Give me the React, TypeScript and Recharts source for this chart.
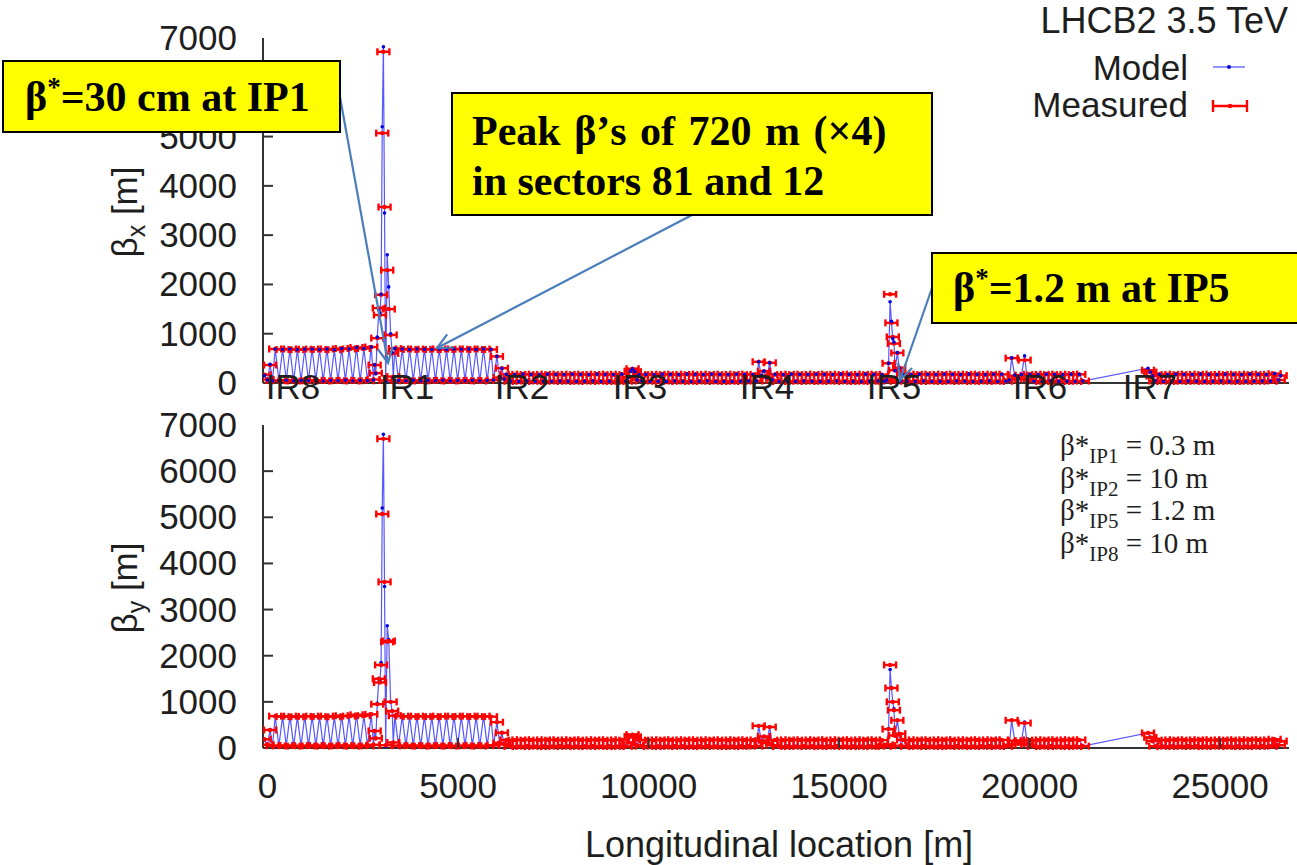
import { ComposedChart, Line, Scatter, XAxis, YAxis, Legend } from "recharts"

type Pt = [number, number]

// s [m], beta [m]
const arc81: Pt[] = [
  [200, 690], [297, 45], [394, 680], [491, 55], [588, 690], [685, 40], [782, 675], [879, 50], [976, 685],
  [1073, 45], [1170, 690], [1267, 55], [1364, 680], [1461, 40], [1558, 690], [1655, 50], [1752, 675],
  [1849, 45], [1946, 700], [2043, 55], [2140, 690], [2237, 40], [2334, 720], [2431, 50], [2528, 700],
  [2625, 45], [2722, 730],
]
const arc12: Pt[] = [
  [3340, 700], [3437, 50], [3534, 690], [3631, 45], [3728, 680], [3825, 55], [3922, 690], [4019, 40],
  [4116, 685], [4213, 50], [4310, 680], [4407, 45], [4504, 690], [4601, 55], [4698, 680], [4795, 40],
  [4892, 690], [4989, 50], [5086, 685], [5183, 45], [5280, 690], [5377, 55], [5474, 680], [5571, 40],
  [5668, 690], [5765, 50], [5862, 680],
]
const arc23: Pt[] = [
  [6270, 175], [6378, 35], [6486, 170], [6594, 30], [6702, 180], [6810, 40], [6918, 175], [7026, 30],
  [7134, 170], [7242, 35], [7350, 180], [7458, 30], [7566, 175], [7674, 40], [7782, 170], [7890, 35],
  [7998, 180], [8106, 30], [8214, 175], [8322, 35], [8430, 170], [8538, 40], [8646, 180], [8754, 30],
  [8862, 175], [8970, 35], [9078, 170], [9186, 30], [9294, 180], [9402, 35],
]
const arc34: Pt[] = [
  [9820, 40], [9928, 175], [10036, 30], [10144, 170], [10252, 35], [10360, 180], [10468, 30], [10576, 175],
  [10684, 40], [10792, 170], [10900, 35], [11008, 180], [11116, 30], [11224, 175], [11332, 35], [11440, 170],
  [11548, 40], [11656, 180], [11764, 30], [11872, 175], [11980, 35], [12088, 170], [12196, 30], [12304, 180],
  [12412, 35], [12520, 175], [12628, 40], [12736, 170],
]
const arc45: Pt[] = [
  [13320, 175], [13428, 30], [13536, 170], [13644, 35], [13752, 180], [13860, 30], [13968, 175], [14076, 40],
  [14184, 170], [14292, 35], [14400, 180], [14508, 30], [14616, 175], [14724, 35], [14832, 170], [14940, 40],
  [15048, 180], [15156, 30], [15264, 175], [15372, 35], [15480, 170], [15588, 30], [15696, 180], [15804, 35],
  [15912, 175], [16020, 40], [16128, 170], [16200, 35],
]
const arc56: Pt[] = [
  [16680, 175], [16788, 35], [16896, 170], [17004, 30], [17112, 180], [17220, 40], [17328, 175], [17436, 30],
  [17544, 170], [17652, 35], [17760, 180], [17868, 30], [17976, 175], [18084, 40], [18192, 170], [18300, 35],
  [18408, 180], [18516, 30], [18624, 175], [18732, 35], [18840, 170], [18948, 40], [19056, 180], [19164, 30],
  [19272, 175], [19380, 35],
]
const arc67: Pt[] = [
  [20010, 175], [20118, 35], [20226, 170], [20334, 30], [20442, 180], [20550, 40], [20658, 175], [20766, 30],
  [20874, 170], [20982, 35], [21090, 180], [21198, 30], [21306, 175], [21400, 40],
]
const arc78: Pt[] = [
  [23300, 40], [23408, 175], [23516, 30], [23624, 170], [23732, 35], [23840, 180], [23948, 30], [24056, 175],
  [24164, 40], [24272, 170], [24380, 35], [24488, 180], [24596, 30], [24704, 175], [24812, 35], [24920, 170],
  [25028, 40], [25136, 180], [25244, 30], [25352, 175], [25460, 35], [25568, 170], [25676, 30], [25784, 180],
  [25892, 35], [26000, 175], [26108, 40], [26216, 170], [26324, 35], [26432, 190], [26540, 60], [26590, 150],
]

// horizontal plane, insertion regions
const ir8X: Pt[] = [[-80, 150], [0, 60], [65, 380], [130, 45]]
const ir8XMeas: Pt[] = [[-80, 170], [0, 70], [65, 365], [130, 50]]
const ir1X: Pt[] = [
  [2780, 60], [2810, 370], [2840, 190], [2880, 930], [2920, 1480], [2950, 1420], [2980, 1800], [3010, 5200],
  [3040, 6820], [3070, 3450], [3100, 30], [3140, 2600], [3180, 1950], [3230, 1000], [3270, 620], [3300, 110],
]
const ir1XMeas: Pt[] = [
  [2780, 70], [2810, 365], [2840, 200], [2880, 910], [2920, 1520], [2950, 1380], [2980, 1790], [3010, 5070],
  [3040, 6720], [3070, 3570], [3100, 50], [3140, 2290], [3180, 1500], [3230, 975], [3270, 600], [3300, 130],
]
const ir2X: Pt[] = [[5930, 60], [6020, 540], [6090, 110], [6150, 300], [6210, 80]]
const ir3X: Pt[] = [[9470, 120], [9530, 240], [9580, 290], [9640, 230], [9700, 60], [9750, 170]]
const ir4X: Pt[] = [[12830, 40], [12890, 430], [12960, 150], [13030, 240], [13100, 110], [13180, 410], [13250, 60]]
const ir5X: Pt[] = [
  [16250, 60], [16300, 400], [16340, 1650], [16375, 1250], [16410, 900], [16440, 830], [16470, 250],
  [16530, 620], [16580, 300], [16620, 40],
]
const ir5XMeas: Pt[] = [
  [16250, 70], [16300, 400], [16340, 1800], [16375, 1220], [16410, 935], [16440, 800], [16470, 260],
  [16530, 610], [16580, 310], [16620, 50],
]
const ir6X: Pt[] = [[19470, 60], [19530, 510], [19610, 160], [19700, 90], [19790, 170], [19870, 550], [19940, 70]]
const ir6XMeas: Pt[] = [[19470, 70], [19530, 505], [19610, 150], [19700, 90], [19790, 160], [19870, 465], [19940, 80]]
const ir7X: Pt[] = [[23110, 300], [23170, 220], [23230, 140]]
const ir7XMeas: Pt[] = [[23110, 260], [23170, 220], [23230, 140]]

// vertical plane, insertion regions
const ir8Y: Pt[] = [[-80, 180], [0, 60], [65, 400], [130, 45]]
const ir8YMeas: Pt[] = [[-80, 190], [0, 70], [65, 390], [130, 50]]
const ir1Y: Pt[] = [
  [2780, 60], [2810, 380], [2840, 200], [2880, 970], [2920, 1500], [2950, 1450], [2980, 1850], [3010, 5200],
  [3040, 6800], [3070, 3500], [3100, 30], [3140, 2650], [3180, 2350], [3230, 1000], [3270, 800], [3300, 110],
]
const ir1YMeas: Pt[] = [
  [2780, 70], [2810, 370], [2840, 210], [2880, 950], [2920, 1500], [2950, 1420], [2980, 1800], [3010, 5070],
  [3040, 6700], [3070, 3600], [3100, 60], [3140, 2300], [3180, 2320], [3230, 1000], [3270, 800], [3300, 120],
]
const ir2Y: Pt[] = [[5930, 60], [6020, 560], [6090, 110], [6150, 330], [6210, 80]]
const ir3Y: Pt[] = [[9470, 120], [9530, 250], [9580, 290], [9640, 240], [9700, 60], [9750, 170]]
const ir4Y: Pt[] = [[12830, 40], [12890, 480], [12960, 160], [13030, 250], [13100, 110], [13180, 455], [13250, 60]]
const ir5Y: Pt[] = [
  [16250, 60], [16300, 420], [16340, 1700], [16375, 1300], [16410, 1000], [16440, 850], [16470, 260],
  [16530, 600], [16580, 300], [16620, 40],
]
const ir5YMeas: Pt[] = [
  [16250, 70], [16300, 410], [16340, 1800], [16375, 1300], [16410, 1000], [16440, 820], [16470, 270],
  [16530, 600], [16580, 310], [16620, 50],
]
const ir6Y: Pt[] = [[19470, 60], [19530, 600], [19610, 170], [19700, 90], [19790, 170], [19870, 560], [19940, 70]]
const ir6YMeas: Pt[] = [[19470, 70], [19530, 600], [19610, 160], [19700, 90], [19790, 160], [19870, 540], [19940, 80]]
const ir7Y: Pt[] = [[23110, 325], [23170, 230], [23230, 150]]

const irLabels = ["IR8", "IR1", "IR2", "IR3", "IR4", "IR5", "IR6", "IR7"]
const irTicks = [669, 3661, 6680, 9777, 13110, 16444, 20276, 23163]
const betaTicks = [0, 1000, 2000, 3000, 4000, 5000, 6000, 7000]
const sTicks = [0, 5000, 10000, 15000, 20000, 25000]
const ipBetaStar = [
  { ip: "IP1", value: "0.3 m" },
  { ip: "IP2", value: "10 m" },
  { ip: "IP5", value: "1.2 m" },
  { ip: "IP8", value: "10 m" },
]

const rows = (parts: Pt[][]) => parts.flat().map(([s, beta]) => ({ s, beta }))

const modelX = rows([ir8X, arc81, ir1X, arc12, ir2X, arc23, ir3X, arc34, ir4X, arc45, ir5X, arc56, ir6X, arc67, ir7X, arc78])
const measX = rows([ir8XMeas, arc81, ir1XMeas, arc12, ir2X, arc23, ir3X, arc34, ir4X, arc45, ir5XMeas, arc56, ir6XMeas, arc67, ir7XMeas, arc78])
const modelY = rows([ir8Y, arc81, ir1Y, arc12, ir2Y, arc23, ir3Y, arc34, ir4Y, arc45, ir5Y, arc56, ir6Y, arc67, ir7Y, arc78])
const measY = rows([ir8YMeas, arc81, ir1YMeas, arc12, ir2Y, arc23, ir3Y, arc34, ir4Y, arc45, ir5YMeas, arc56, ir6YMeas, arc67, ir7Y, arc78])

const sans = "'Liberation Sans', Arial, Helvetica, sans-serif"
const serif = "'Liberation Serif', 'Times New Roman', serif"
const ink = "#1e1e1e"
const frame = "#333"
const blue = "#1f1fff"
const red = "#ff0000"
const arrowBlue = "#4a7ebb"
const sDomain: [number, number] = [-120, 26810]

function BetaTick(props: any) {
  const { x, y, payload } = props
  const v = payload.value
  return (
    <g>
      {v > 0 && v < 7000 && <line x1={x} x2={x + 10} y1={y} y2={y} stroke={frame} strokeWidth={2} />}
      <text x={x - 26} y={y + 12} textAnchor="end" fontFamily={sans} fontSize={35} fill={ink}>
        {v}
      </text>
    </g>
  )
}

function RightTick(props: any) {
  const { x, y } = props
  return <line x1={x} x2={x - 10} y1={y} y2={y} stroke={frame} strokeWidth={2} />
}

function IrTick(props: any) {
  const { x, y, payload } = props
  return (
    <text x={x} y={y + 16} textAnchor="middle" fontFamily={sans} fontSize={35} fill={ink}>
      {irLabels[irTicks.indexOf(payload.value)]}
    </text>
  )
}

function DistTick(props: any) {
  const { x, y, payload } = props
  return (
    <g>
      {payload.value > 0 && <line x1={x} x2={x} y1={y} y2={y - 10} stroke={frame} strokeWidth={2} />}
      <text x={x} y={y + 50} textAnchor="middle" fontFamily={sans} fontSize={35} fill={ink}>
        {payload.value}
      </text>
    </g>
  )
}

function TopTick(props: any) {
  const { x, y } = props
  return <line x1={x} x2={x} y1={y} y2={y + 10} stroke={frame} strokeWidth={2} />
}

function MeasuredMark(props: any) {
  const { cx, cy } = props
  return (
    <g stroke={red} strokeWidth={2.4}>
      <line x1={cx - 6} x2={cx + 6} y1={cy} y2={cy} />
      <line x1={cx - 6} x2={cx - 6} y1={cy - 3.5} y2={cy + 3.5} />
      <line x1={cx + 6} x2={cx + 6} y1={cy - 3.5} y2={cy + 3.5} />
      <circle cx={cx} cy={cy} r={2.2} fill={red} stroke="none" />
    </g>
  )
}

const modelDot = (p: any) => <circle key={`d-${p.index}`} cx={p.cx} cy={p.cy} r={1.8} fill="#0000e0" />

const yLabel = (cy: number, sub: string) => () => (
  <text transform={`translate(137,${cy}) rotate(-90)`} textAnchor="middle" fontFamily={sans} fontSize={35} fill={ink}>
    β<tspan fontSize={25} dy={8}>{sub}</tspan>
    <tspan dy={-8}> [m]</tspan>
  </text>
)

function LegendBox() {
  return (
    <svg width={270} height={90}>
      <text x={188} y={35} textAnchor="end" fontFamily={sans} fontSize={35} fill={ink}>Model</text>
      <line x1={213} x2={245} y1={22} y2={22} stroke={blue} strokeWidth={1.2} strokeOpacity={0.8} />
      <circle cx={229} cy={22} r={2} fill="#0000e0" />
      <text x={188} y={72} textAnchor="end" fontFamily={sans} fontSize={35} fill={ink}>Measured</text>
      <g stroke={red} strokeWidth={2.4}>
        <line x1={213} x2={247} y1={61} y2={61} />
        <line x1={213} x2={213} y1={55} y2={67} />
        <line x1={247} x2={247} y1={55} y2={67} />
      </g>
      <circle cx={230} cy={61} r={2.2} fill={red} />
    </svg>
  )
}

function Arrow({ from, to }: { from: [number, number]; to: [number, number] }) {
  const [x1, y1] = from
  const [x2, y2] = to
  const a = Math.atan2(y2 - y1, x2 - x1)
  const h = 17
  const p1 = `${x2 - h * Math.cos(a - 0.45)},${y2 - h * Math.sin(a - 0.45)}`
  const p2 = `${x2 - h * Math.cos(a + 0.45)},${y2 - h * Math.sin(a + 0.45)}`
  return (
    <g stroke={arrowBlue} strokeWidth={2.2} fill="none">
      <line x1={x1} y1={y1} x2={x2} y2={y2} />
      <polyline points={`${p1} ${x2},${y2} ${p2}`} />
    </g>
  )
}

export default function App() {
  return (
    <div style={{ position: "absolute", left: 0, top: 0, width: 1297, height: 865, background: "#fff" }}>
      <div style={{ position: "absolute", left: 0, top: 0 }}>
        <ComposedChart width={1297} height={410} margin={{ top: 38, right: 8, bottom: 0, left: 0 }}>
          <XAxis dataKey="s" type="number" domain={sDomain} allowDataOverflow ticks={irTicks} interval={0}
            height={27} tickSize={0} tickMargin={0} tickLine={false} tick={<IrTick />}
            axisLine={{ stroke: frame, strokeWidth: 2 }} />
          <XAxis xAxisId="t" orientation="top" type="number" domain={sDomain} allowDataOverflow height={0}
            tick={false} tickLine={false} axisLine={{ stroke: frame, strokeWidth: 2 }} />
          <YAxis type="number" domain={[0, 7000]} ticks={betaTicks} interval={0} width={263} tickSize={0}
            tickMargin={0} tickLine={false} tick={<BetaTick />} axisLine={{ stroke: frame, strokeWidth: 2 }}
            label={{ content: yLabel(212, "x") }} />
          <YAxis yAxisId="r" orientation="right" type="number" domain={[0, 7000]} ticks={betaTicks.slice(1, 7)}
            interval={0} width={0} tickSize={0} tickMargin={0} tickLine={false} tick={<RightTick />}
            axisLine={{ stroke: frame, strokeWidth: 2 }} />
          <Line data={modelX} dataKey="beta" name="Model" stroke={blue} strokeWidth={1.2} strokeOpacity={0.75}
            dot={modelDot} activeDot={false} isAnimationActive={false} />
          <Scatter data={measX} dataKey="beta" name="Measured" shape={<MeasuredMark />} isAnimationActive={false} />
          <Legend layout="vertical" align="center" verticalAlign="middle" content={() => <LegendBox />}
            wrapperStyle={{ position: "absolute", left: 1000, top: 45, width: 270, height: 90 }} />
        </ComposedChart>
      </div>

      <div style={{ position: "absolute", left: 0, top: 395 }}>
        <ComposedChart width={1297} height={470} margin={{ top: 30, right: 8, bottom: 0, left: 0 }}>
          <XAxis dataKey="s" type="number" domain={sDomain} allowDataOverflow ticks={sTicks} interval={0}
            height={117} tickSize={0} tickMargin={0} tickLine={false} tick={<DistTick />}
            axisLine={{ stroke: frame, strokeWidth: 2 }}
            label={{
              content: () => (
                <text x={779} y={462} textAnchor="middle" fontFamily={sans} fontSize={36} fill={ink}>
                  Longitudinal location [m]
                </text>
              ),
            }} />
          <XAxis xAxisId="t" orientation="top" type="number" domain={sDomain} allowDataOverflow ticks={sTicks.slice(1)}
            interval={0} height={0} tickSize={0} tickMargin={0} tickLine={false} tick={<TopTick />}
            axisLine={{ stroke: frame, strokeWidth: 2 }} />
          <YAxis type="number" domain={[0, 7000]} ticks={betaTicks} interval={0} width={263} tickSize={0}
            tickMargin={0} tickLine={false} tick={<BetaTick />} axisLine={{ stroke: frame, strokeWidth: 2 }}
            label={{ content: yLabel(193, "y") }} />
          <YAxis yAxisId="r" orientation="right" type="number" domain={[0, 7000]} ticks={betaTicks.slice(1, 7)}
            interval={0} width={0} tickSize={0} tickMargin={0} tickLine={false} tick={<RightTick />}
            axisLine={{ stroke: frame, strokeWidth: 2 }} />
          <Line data={modelY} dataKey="beta" name="Model" stroke={blue} strokeWidth={1.2} strokeOpacity={0.75}
            dot={modelDot} activeDot={false} isAnimationActive={false} />
          <Scatter data={measY} dataKey="beta" name="Measured" shape={<MeasuredMark />} isAnimationActive={false} />
        </ComposedChart>
      </div>

      <svg width={1297} height={865} style={{ position: "absolute", left: 0, top: 0, pointerEvents: "none" }}>
        <text x={1288} y={33} textAnchor="end" fontFamily={sans} fontSize={36} fill={ink}>LHCB2 3.5 TeV</text>

        {ipBetaStar.map((d, i) => (
          <text key={d.ip} x={1060} y={455 + i * 32.5} fontFamily={serif} fontSize={29} fill={ink}>
            β*<tspan fontSize={21} dy={8}>{d.ip}</tspan>
            <tspan dy={-8}> = {d.value}</tspan>
          </text>
        ))}

        <Arrow from={[340, 97]} to={[388, 363]} />
        <Arrow from={[692, 215]} to={[437, 348]} />
        <Arrow from={[932, 288]} to={[900, 380]} />

        <rect x={3} y={61} width={337} height={71} fill="#ffff00" stroke="#000" strokeWidth={2} />
        <text x={25} y={111} fontFamily={serif} fontWeight="bold" fontSize={42} fill="#000">
          β<tspan fontSize={27} dy={-15}>*</tspan>
          <tspan dy={15}>=30 cm at IP1</tspan>
        </text>

        <rect x={452} y={93} width={480} height={122} fill="#ffff00" stroke="#000" strokeWidth={2} />
        <text x={472} y={145} fontFamily={serif} fontWeight="bold" fontSize={42} fill="#000" wordSpacing={3}>
          Peak β’s of 720 m (×4)
        </text>
        <text x={472} y={195} fontFamily={serif} fontWeight="bold" fontSize={42} fill="#000">
          in sectors 81 and 12
        </text>

        <rect x={932} y={253} width={380} height={70} fill="#ffff00" stroke="#000" strokeWidth={2} />
        <text x={953} y={302} fontFamily={serif} fontWeight="bold" fontSize={42} fill="#000">
          β<tspan fontSize={27} dy={-15}>*</tspan>
          <tspan dy={15}>=1.2 m at IP5</tspan>
        </text>
      </svg>
    </div>
  )
}
